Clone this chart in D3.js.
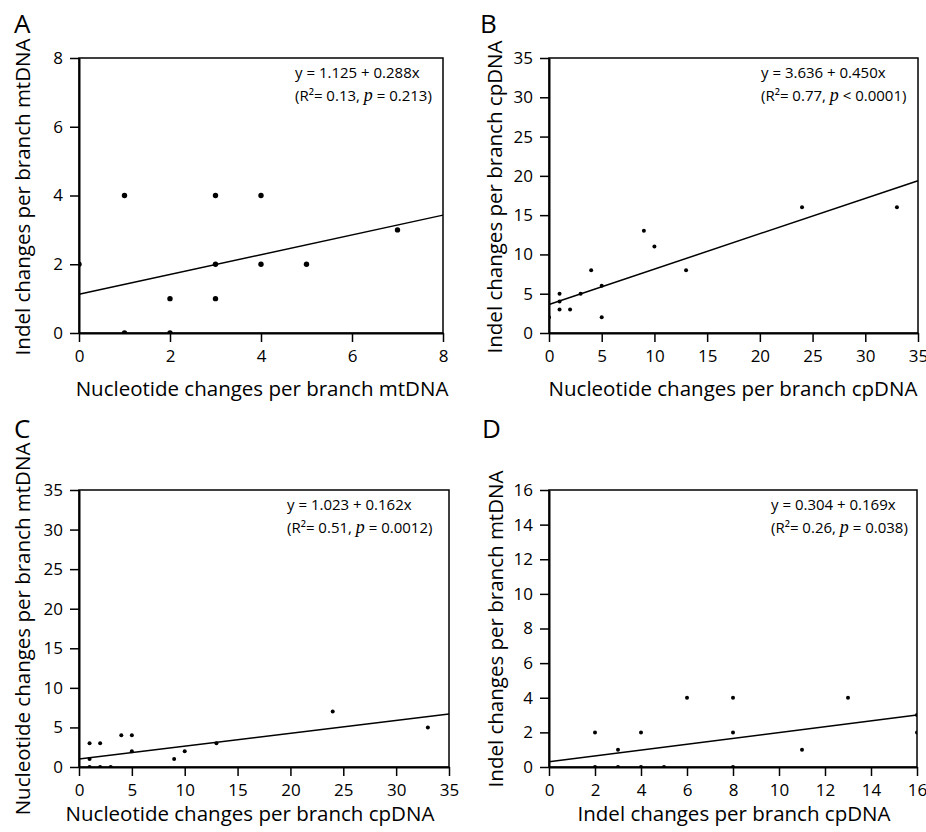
<!DOCTYPE html>
<html>
<head>
<meta charset="utf-8">
<script src="https://cdn.jsdelivr.net/npm/d3@7"></script>
<style>
  body { margin: 0; background: #fff; }
  svg { font-family: "Open Sans", "Noto Sans", sans-serif; }
</style>
</head>
<body>
<svg id="chart" width="926" height="832"></svg>
<script>
// panel data
const panelIds = ["A", "B", "C", "D"]
const xTitles = [
  "Nucleotide changes per branch mtDNA",
  "Nucleotide changes per branch cpDNA",
  "Nucleotide changes per branch cpDNA",
  "Indel changes per branch cpDNA"
]
const yTitles = [
  "Indel changes per branch mtDNA",
  "Indel changes per branch cpDNA",
  "Nucleotide changes per branch mtDNA",
  "Indel changes per branch mtDNA"
]
const axisMax = [8, 35, 35, 16]
const tickSteps = [2, 5, 5, 2]

const aX = [1, 3, 4, 7, 0, 3, 4, 5, 2, 3, 1, 2]
const aY = [4, 4, 4, 3, 2, 2, 2, 2, 1, 1, 0, 0]
const bX = [0, 1, 1, 1, 2, 3, 4, 5, 5, 9, 10, 13, 24, 33]
const bY = [2, 5, 4, 3, 3, 5, 8, 6, 2, 13, 11, 8, 16, 16]
const cX = [1, 2, 4, 5, 1, 5, 9, 10, 13, 24, 33, 1, 2, 3]
const cY = [3, 3, 4, 4, 1, 2, 1, 2, 3, 7, 5, 0, 0, 0]
const dX = [2, 3, 4, 6, 8, 8, 11, 13, 16, 16, 2, 3, 4, 5, 8]
const dY = [2, 1, 2, 4, 4, 2, 1, 4, 3, 2, 0, 0, 0, 0, 0]

const intercepts = [1.125, 3.636, 1.023, 0.304]
const slopes = [0.288, 0.450, 0.162, 0.169]
const equations = ["y = 1.125 + 0.288x", "y = 3.636 + 0.450x", "y = 1.023 + 0.162x", "y = 0.304 + 0.169x"]
const rSquared = ["0.13", "0.77", "0.51", "0.26"]
const pValues = ["= 0.213", "< 0.0001", "= 0.0012", "= 0.038"]

const pointsX = [aX, bX, cX, dX]
const pointsY = [aY, bY, cY, dY]

// layout of the four panels (pixels)
const layout = [
  { left: 79, right: 443, top: 58, bottom: 333, ylab: 23, xlab: 262, ylabY: 197, xlabY: 396, letter: [14, 33], r: 2.7, eq: 295 },
  { left: 549, right: 918, top: 58, bottom: 333, ylab: 495, xlab: 733, ylabY: 197, xlabY: 396, letter: [480, 33], r: 2, eq: 761 },
  { left: 79, right: 449, top: 490, bottom: 767, ylab: 23, xlab: 250, ylabY: 629, xlabY: 821, letter: [14, 438], r: 2, eq: 287 },
  { left: 549, right: 917, top: 490, bottom: 767, ylab: 496, xlab: 734, ylabY: 629, xlabY: 821, letter: [482, 438], r: 2, eq: 771 }
]

const svg = d3.select("#chart")

panelIds.forEach((id, i) => {
  const L = layout[i]
  const x = d3.scaleLinear().domain([0, axisMax[i]]).range([L.left, L.right])
  const y = d3.scaleLinear().domain([0, axisMax[i]]).range([L.bottom, L.top])
  const ticks = d3.range(0, axisMax[i] + 0.001, tickSteps[i])

  const g = svg.append("g")

  // clip for points
  g.append("clipPath")
    .attr("id", "clip" + id)
    .append("rect")
    .attr("x", L.left).attr("y", L.top)
    .attr("width", L.right - L.left).attr("height", L.bottom - L.top)

  // box
  g.append("rect")
    .attr("x", L.left).attr("y", L.top)
    .attr("width", L.right - L.left).attr("height", L.bottom - L.top)
    .attr("fill", "none").attr("stroke", "#000").attr("stroke-width", 1.5)

  const xAxis = g.append("g")
    .attr("transform", `translate(0,${L.bottom})`)
    .call(d3.axisBottom(x).tickValues(ticks).tickSize(9).tickPadding(8).tickSizeOuter(0))
  const yAxis = g.append("g")
    .attr("transform", `translate(${L.left},0)`)
    .call(d3.axisLeft(y).tickValues(ticks).tickSize(9).tickPadding(7).tickSizeOuter(0))

  ;[xAxis, yAxis].forEach(ax => {
    ax.select(".domain").attr("stroke-width", 2)
    ax.selectAll(".tick line").attr("stroke-width", 1.5)
    ax.selectAll(".tick text").attr("font-size", 17).attr("font-family", "Open Sans").attr("fill", "#000")
  })

  // regression line
  g.append("line")
    .attr("x1", x(0)).attr("y1", y(intercepts[i]))
    .attr("x2", x(axisMax[i])).attr("y2", y(intercepts[i] + slopes[i] * axisMax[i]))
    .attr("stroke", "#000").attr("stroke-width", 1.5)

  // points
  g.append("g")
    .attr("clip-path", `url(#clip${id})`)
    .selectAll("circle")
    .data(pointsX[i].map((v, k) => [v, pointsY[i][k]]))
    .enter()
    .append("circle")
    .attr("cx", d => x(d[0]))
    .attr("cy", d => y(d[1]))
    .attr("r", L.r)
    .attr("fill", "#000")

  // equation
  g.append("text")
    .attr("x", L.eq).attr("y", L.top + 20)
    .attr("font-size", 15)
    .text(equations[i])
  const st = g.append("text")
    .attr("x", L.eq).attr("y", L.top + 43)
    .attr("font-size", 15)
  st.append("tspan").text(`(R²= ${rSquared[i]}, `)
  st.append("tspan").attr("font-family", "Liberation Serif").attr("font-style", "italic").attr("font-size", 18).text("p")
  st.append("tspan").text(` ${pValues[i]})`)

  // axis titles
  g.append("text")
    .attr("x", L.xlab).attr("y", L.xlabY)
    .attr("text-anchor", "middle")
    .attr("font-size", 20.5)
    .text(xTitles[i])
  g.append("text")
    .attr("transform", `translate(${L.ylab + 7},${L.ylabY}) rotate(-90)`)
    .attr("text-anchor", "middle")
    .attr("font-size", 20.5)
    .text(yTitles[i])

  // panel letter
  g.append("text")
    .attr("x", L.letter[0]).attr("y", L.letter[1])
    .attr("font-size", 26)
    .text(id)
})
</script>
</body>
</html>
